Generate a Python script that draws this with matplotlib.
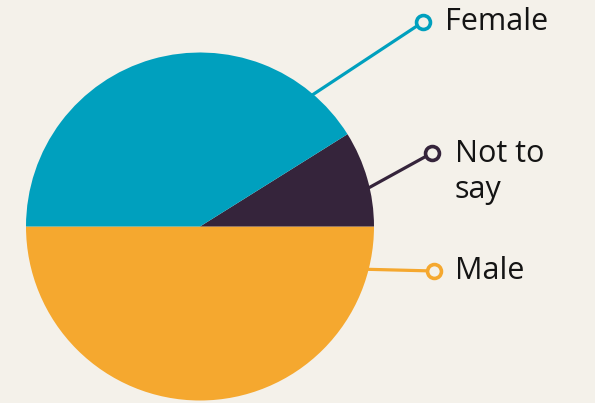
import matplotlib.pyplot as plt
import numpy as np

labels = ["Male", "Not to say", "Female"]
shares = [50.0, 8.9, 41.1]
colors = ["#F5A82F", "#35243B", "#00A0BE"]

# label text, leader start angle on the rim (deg), marker end point (px from top-left)
label_text = ["Male", "Not to\nsay", "Female"]
leader_angle = [-14.4, 12.8, 49.6]
marker_xy = [(434, 271), (432, 153), (423, 22)]
text_xy = [(455, 271), (455, 172), (445, 22)]

W, H = 595, 403
bg = "#F4F1EA"

fig = plt.figure(figsize=(W / 100, H / 100), dpi=100, facecolor=bg)
ax = fig.add_axes([0, 0, 1, 1])

cx, cy, r = 200, H - 226.5, 174
ax.pie(shares, colors=colors, startangle=180, counterclock=True,
       center=(cx, cy), radius=r, frame=True,
       wedgeprops=dict(linewidth=0))
ax.set_xlim(0, W)
ax.set_ylim(0, H)
ax.set_aspect("equal")
ax.axis("off")

for txt, ang, (mx, my), (tx, ty), col in zip(label_text, leader_angle, marker_xy, text_xy, colors):
    a = np.radians(ang)
    sx, sy = cx + (r - 2) * np.cos(a), cy + (r - 2) * np.sin(a)
    ax.plot([sx, mx], [sy, H - my], color=col, lw=2.3, solid_capstyle="butt", zorder=3)
    ax.plot(mx, H - my, marker="o", ms=10, mfc=bg, mec=col, mew=2.6, zorder=4)
    ax.text(tx, H - ty, txt, fontsize=22, family="Open Sans",
            color="#141414", ha="left", va="center", linespacing=1.22)

fig.savefig("out.png", dpi=100, facecolor=bg)
